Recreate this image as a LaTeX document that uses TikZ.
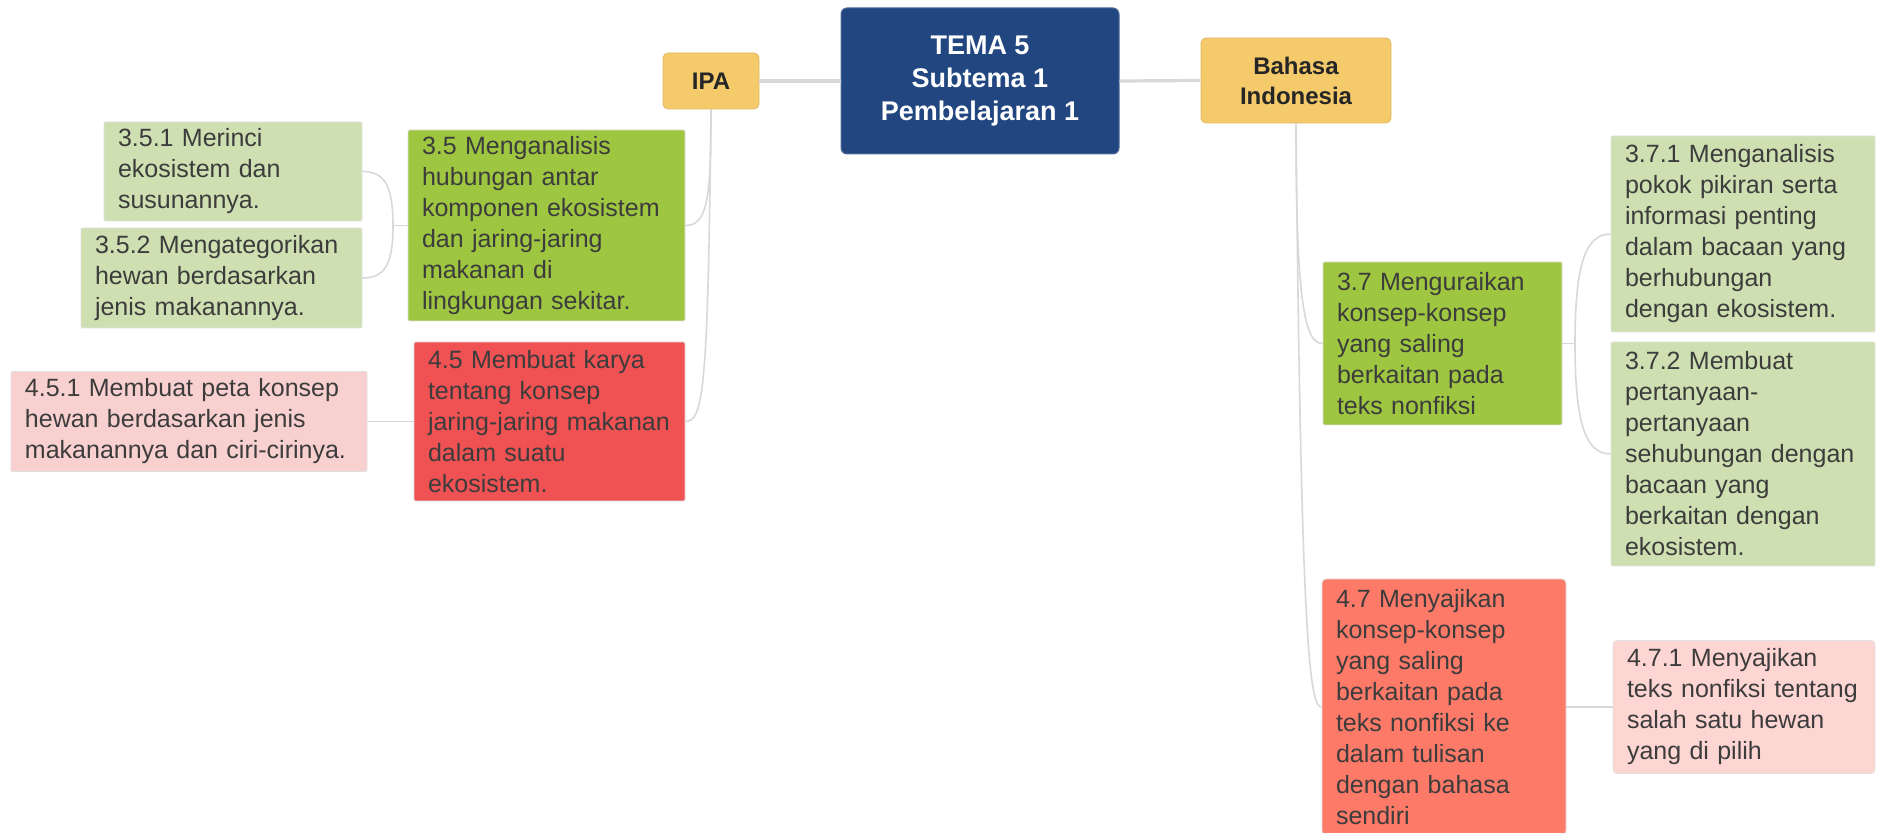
\documentclass[tikz,border=0pt]{standalone}
\usepackage{fontspec}
\setmainfont{Liberation Sans}
\hyphenpenalty=10000 \exhyphenpenalty=10000
\definecolor{navy}{HTML}{22467F}
\definecolor{gold}{HTML}{F4CA6A}
\definecolor{lime}{HTML}{9EC640}
\definecolor{pale}{HTML}{CEE0B1}
\definecolor{redb}{HTML}{F05152}
\definecolor{salmon}{HTML}{FE7A68}
\definecolor{pinka}{HTML}{F9D0D0}
\definecolor{pinkb}{HTML}{FDD5D3}
\definecolor{txt}{HTML}{3C3C3C}
\definecolor{conn}{HTML}{D8D8D8}
\begin{document}
\begin{tikzpicture}[x=0.5pt,y=-0.5pt,
 box/.style={rectangle, draw=black!12, line width=0.4pt, inner xsep=7pt, inner ysep=1pt, align=left, text=txt, font=\fontsize{12.5}{15.5}\selectfont, rounded corners=0.6pt},
 topic/.style={rectangle, fill=gold, draw=gold!92!black, line width=0.4pt, rounded corners=2.5pt, align=center, font=\fontsize{12}{15}\selectfont\bfseries, text=black!85},
 rootbox/.style={rectangle, fill=navy, draw=navy!80!white, line width=0.5pt, rounded corners=3pt, align=center, text=white, font=\fontsize{13.5}{16.5}\selectfont\bfseries},
 link/.style={draw=conn, line width=0.8pt},
 trunk/.style={draw=conn, line width=1.6pt}]

\useasboundingbox (0,0) rectangle (1881,833);

\node[rootbox, minimum width=139pt, minimum height=73pt] (root) at (980,81) {TEMA 5\\Subtema 1\\Pembelajaran 1};
\node[topic, minimum width=48pt, minimum height=28pt] (ipa) at (711,81) {IPA};
\node[topic, minimum width=95pt, minimum height=42.5pt] (bi) at (1296,80.5) {Bahasa\\Indonesia};

\node[box, fill=lime, text width=124.5pt, minimum height=95.5pt] (k35) at (546.5,225.5) {3.5 Menganalisis\\hubungan antar\\komponen ekosistem\\dan jaring-jaring\\makanan di\\lingkungan sekitar.};
\node[box, fill=redb, text width=121.5pt, minimum height=79.5pt] (k45) at (549.5,421.5) {4.5 Membuat karya\\tentang konsep\\jaring-jaring makanan\\dalam suatu\\ekosistem.};
\node[box, fill=pale, text width=115pt, minimum height=49.5pt] (k351) at (233,171.5) {3.5.1 Merinci\\ekosistem dan\\susunannya.};
\node[box, fill=pale, text width=126.5pt, minimum height=50pt] (k352) at (221.5,278) {3.5.2 Mengategorikan\\hewan berdasarkan\\jenis makanannya.};
\node[box, fill=pinka, text width=164pt, minimum height=50pt] (k451) at (189,421.5) {4.5.1 Membuat peta konsep\\hewan berdasarkan jenis\\makanannya dan ciri-cirinya.};

\node[box, fill=lime, text width=105.5pt, minimum height=81.5pt] (k37) at (1442.5,343.5) {3.7 Menguraikan\\konsep-konsep\\yang saling\\berkaitan pada\\teks nonfiksi};
\node[box, fill=pale, text width=118pt, minimum height=98pt] (k371) at (1743,234) {3.7.1 Menganalisis\\pokok pikiran serta\\informasi penting\\dalam bacaan yang\\berhubungan\\dengan ekosistem.};
\node[box, fill=pale, text width=118pt, minimum height=112pt] (k372) at (1743,454) {3.7.2 Membuat\\pertanyaan-\\pertanyaan\\sehubungan dengan\\bacaan yang\\berkaitan dengan\\ekosistem.};
\node[box, fill=salmon, rounded corners=2pt, text width=108pt, minimum height=128pt] (k47) at (1444,707) {4.7 Menyajikan\\konsep-konsep\\yang saling\\berkaitan pada\\teks nonfiksi ke\\dalam tulisan\\dengan bahasa\\sendiri};
\node[box, fill=pinkb, rounded corners=2pt, text width=117pt, minimum height=66.5pt] (k471) at (1744,707) {4.7.1 Menyajikan\\teks nonfiksi tentang\\salah satu hewan\\yang di pilih};

\draw[trunk] (ipa.east) -- (root.west);
\draw[trunk] (root.east) -- (bi.west);

\draw[link] (ipa.south) .. controls +(0,90) and +(22,0) .. (k35.east);
\draw[link] (ipa.south) .. controls +(-3,280) and +(18,0) .. (k45.east);
\coordinate (j35) at (393,225.5);
\draw[link] (k35.west) -- (j35);
\draw[link] (j35) .. controls +(0,-40) and +(22,0) .. (k351.east);
\draw[link] (j35) .. controls +(0,40) and +(22,0) .. (k352.east);
\draw[link] (k45.west) -- (k451.east);

\draw[link] (bi.south) .. controls +(0,180) and +(-18,0) .. (k37.west);
\draw[link] (bi.south) .. controls +(5,520) and +(-12,0) .. (k47.west);
\coordinate (j37) at (1575,343.5);
\draw[link] (k37.east) -- (j37);
\draw[link] (j37) .. controls +(0,-80) and +(-25,0) .. (k371.west);
\draw[link] (j37) .. controls +(0,80) and +(-25,0) .. (k372.west);
\draw[link] (k47.east) -- (k471.west);
\end{tikzpicture}
\end{document}
